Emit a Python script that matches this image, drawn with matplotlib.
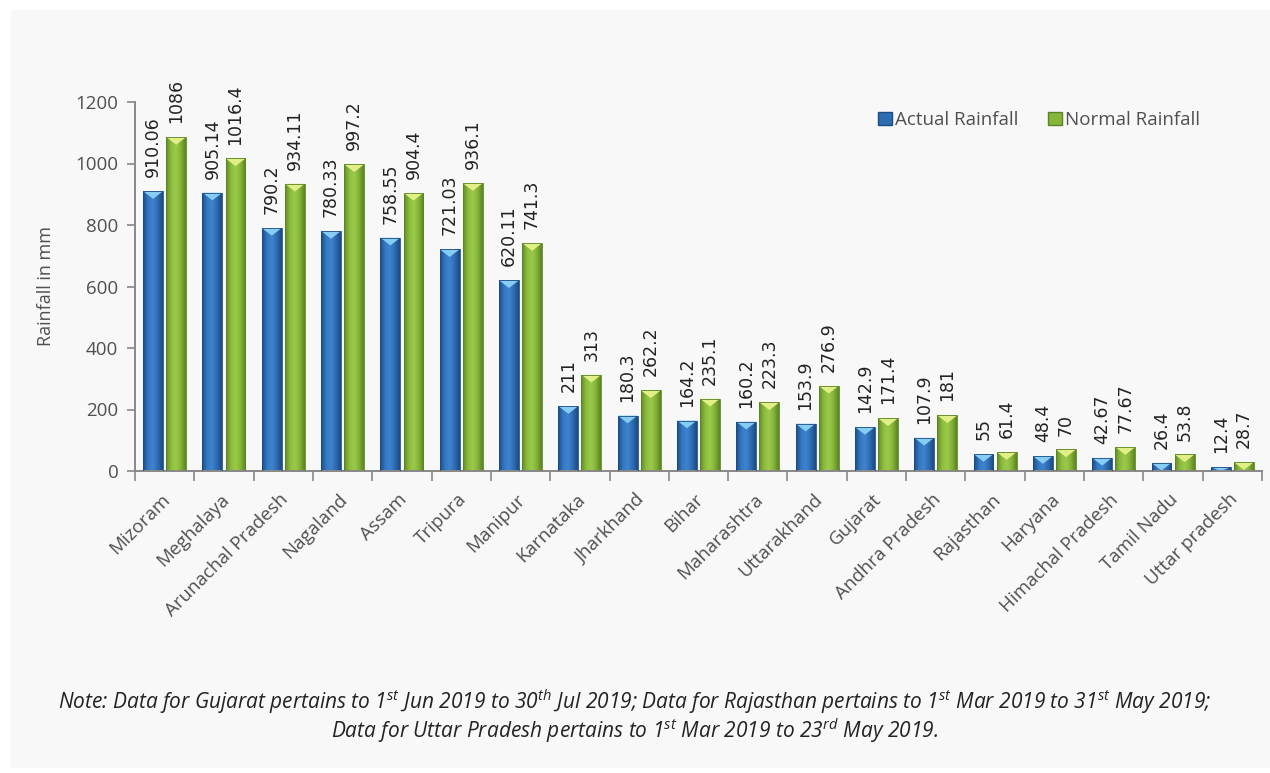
import matplotlib
matplotlib.use("Agg")
import matplotlib.pyplot as plt
import numpy as np
from matplotlib.patches import Rectangle, Polygon, Patch
from matplotlib.colors import LinearSegmentedColormap

states = ["Mizoram", "Meghalaya", "Arunachal Pradesh", "Nagaland", "Assam", "Tripura",
          "Manipur", "Karnataka", "Jharkhand", "Bihar", "Maharashtra", "Uttarakhand",
          "Gujarat", "Andhra Pradesh", "Rajasthan", "Haryana", "Himachal Pradesh",
          "Tamil Nadu", "Uttar pradesh"]
actual = [910.06, 905.14, 790.2, 780.33, 758.55, 721.03, 620.11, 211, 180.3, 164.2,
          160.2, 153.9, 142.9, 107.9, 55, 48.4, 42.67, 26.4, 12.4]
normal = [1086, 1016.4, 934.11, 997.2, 904.4, 936.1, 741.3, 313, 262.2, 235.1,
          223.3, 276.9, 171.4, 181, 61.4, 70, 77.67, 53.8, 28.7]
actual_labels = ["910.06", "905.14", "790.2", "780.33", "758.55", "721.03", "620.11", "211",
                 "180.3", "164.2", "160.2", "153.9", "142.9", "107.9", "55", "48.4",
                 "42.67", "26.4", "12.4"]
normal_labels = ["1086", "1016.4", "934.11", "997.2", "904.4", "936.1", "741.3", "313",
                 "262.2", "235.1", "223.3", "276.9", "171.4", "181", "61.4", "70",
                 "77.67", "53.8", "28.7"]
yticks = [0, 200, 400, 600, 800, 1000, 1200]

plt.rcParams['font.family'] = ['Open Sans', 'DejaVu Sans']
plt.rcParams['mathtext.fontset'] = 'custom'
plt.rcParams['mathtext.rm'] = 'Open Sans:italic'
plt.rcParams['mathtext.it'] = 'Open Sans:italic'

bg = "#f8f8f8"
fig = plt.figure(figsize=(12.7, 7.73), dpi=100, facecolor="white")
fig.patches.append(Rectangle((11/1270, 1 - 768/773), (1270 - 11)/1270, (768 - 10)/773,
                             transform=fig.transFigure, facecolor=bg, edgecolor="none",
                             zorder=-10))
ax = fig.add_axes([135/1270, 1 - 471/773, 1127/1270, 369/773])
ax.set_facecolor("none")

x = np.arange(len(states))
w = 0.335
off = 0.195
blue_cmap = LinearSegmentedColormap.from_list(
    "b", ["#1b4c88", "#3478c2", "#3f84cf", "#2f6bb0", "#1a4a85"])
green_cmap = LinearSegmentedColormap.from_list(
    "g", ["#5f8a25", "#8cbc3e", "#9ccb4b", "#84b238", "#5a8423"])
grad = np.linspace(0, 1, 64).reshape(1, -1)

def draw(series, xs, cmap, edge, tri_color, label):
    bars = ax.bar(xs, series, w, color="none", edgecolor=edge, linewidth=0.6,
                  label=label, zorder=3)
    for b in bars:
        x0, y0 = b.get_x(), b.get_y()
        bw, bh = b.get_width(), b.get_height()
        im = ax.imshow(grad, cmap=cmap, extent=[x0, x0 + bw, y0, y0 + bh],
                       aspect="auto", zorder=2, interpolation="bicubic")
        im.set_clip_path(b)
        d = min(25, bh)
        tri = Polygon([[x0, y0 + bh], [x0 + bw, y0 + bh], [x0 + bw / 2, y0 + bh - d]],
                      closed=True, facecolor=tri_color, edgecolor="none", zorder=2.5)
        ax.add_patch(tri)
    return bars

b1 = draw(actual, x - off, blue_cmap, "#1d4c82", "#86cdf3", "Actual Rainfall")
b2 = draw(normal, x + off, green_cmap, "#5a8424", "#e2ef86", "Normal Rainfall")

for xi, v, t in zip(x, actual, actual_labels):
    ax.annotate(t, (xi - off, v), xytext=(0, 10), textcoords="offset points",
                rotation=90, ha="center", va="bottom", fontsize=12.5,
                family="DejaVu Sans", color="#222222")
for xi, v, t in zip(x, normal, normal_labels):
    ax.annotate(t, (xi + off, v), xytext=(0, 10), textcoords="offset points",
                rotation=90, ha="center", va="bottom", fontsize=12.5,
                family="DejaVu Sans", color="#222222")

ax.set_xlim(-0.5, len(states) - 0.5)
ax.set_ylim(0, 1200)
ax.set_yticks(yticks)
ax.tick_params(axis="y", labelsize=13.5, colors="#505050", length=6, width=1.2,
               color="#888888", pad=6)
ax.set_xticks(np.arange(len(states) + 1) - 0.5)
ax.set_xticklabels([])
ax.tick_params(axis="x", length=7, width=1.2, color="#888888")
for xi, s in zip(x, states):
    ax.annotate(s, (xi, 0), xytext=(-3, -14), textcoords="offset points",
                rotation=45, ha="right", va="top", fontsize=13.5,
                color="#505050", rotation_mode="anchor", annotation_clip=False)

for side in ["top", "right"]:
    ax.spines[side].set_visible(False)
for side in ["left", "bottom"]:
    ax.spines[side].set_color("#888888")
    ax.spines[side].set_linewidth(1.4)
ax.set_ylabel("Rainfall in mm", fontsize=13, color="#505050", labelpad=12)
ax.yaxis.set_label_coords(-80/1127, 0.5)

handles = [Patch(facecolor="#2f6db3", edgecolor="#1d4c82"),
           Patch(facecolor="#86b53c", edgecolor="#5a8424")]
leg = ax.legend(handles, ["Actual Rainfall", "Normal Rainfall"], loc="center right",
                bbox_to_anchor=(0.945, 1 - 18/369), ncol=2, frameon=False,
                fontsize=13.5, handlelength=0.75, handleheight=0.75, handletextpad=0.15,
                columnspacing=1.6, labelcolor="#505050", borderpad=0, borderaxespad=0)

fig.text(0.5, 1 - 702/773,
         r"Note: Data for Gujarat pertains to 1$^{st}$ Jun 2019 to 30$^{th}$ Jul 2019; Data for Rajasthan pertains to 1$^{st}$ Mar 2019 to 31$^{st}$ May 2019;",
         ha="center", va="center", fontsize=15, style="italic", color="#222222")
fig.text(0.5, 1 - 731/773,
         r"Data for Uttar Pradesh pertains to 1$^{st}$ Mar 2019 to 23$^{rd}$ May 2019.",
         ha="center", va="center", fontsize=15, style="italic", color="#222222")

fig.savefig("out.png", dpi=100, facecolor="white")
